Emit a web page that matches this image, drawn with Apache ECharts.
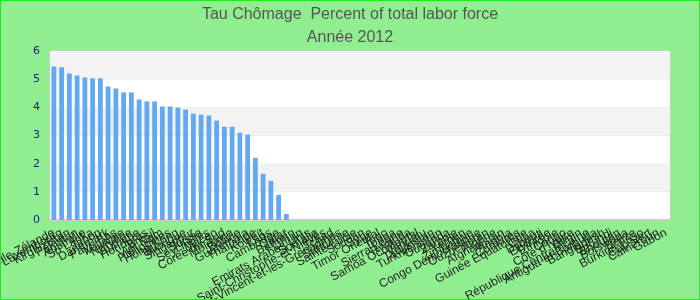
<!DOCTYPE html>
<html>
<head>
<meta charset="utf-8">
<script src="https://cdn.jsdelivr.net/npm/echarts@6/dist/echarts.min.js"></script>
<style>
html,body{margin:0;padding:0;}
#wrap{width:700px;height:300px;box-sizing:border-box;border:1px solid #22e622;background:#90ee90;}
#chart{width:698px;height:298px;}
</style>
</head>
<body>
<div id="wrap"><div id="chart"></div></div>
<script>
var categories = [
  "Nouvelle-Zélande","Luxembourg","Kirghizistan","Pakistan","Australie","Sri Lanka","Japon","Danemark",
  "Pays-Bas","Malaisie","Norvège","Autriche","Honduras","Brésil","Viêt Nam","Philippines",
  "Hong Kong","Mexique","Singapour","Suisse","Seychelles","Macao","Corée du Sud","Moldavie",
  "Bolivie","Guatemala","Thaïlande","Koweït","Laos","Cambodge","Qatar","Bahreïn",
  "Oman","Emirats Arabes Unis","Somalie","Saint-Christophe-et-Niévès","Tchad","Saint-Vincent-et-les-Grenadines","Suriname","Sainte-Lucie",
  "Soudan","Syrie","Timor Oriental","Togo","Tonga","Sierra Leone","Rwanda","Samoa Occidental",
  "Vanuatu","Tadjikistan","Turkménistan","Ouganda","Zambie","Yémen","Zimbabwe","Congo Démocratique",
  "Ouzbékistan","Algérie","Afghanistan","Angola","Comores","Guinée Équatoriale","Cuba","Djibouti",
  "Érythrée","Éthiopie","Congo","Côte d'Ivoire","Bénin","République Centrafricaine","Antigua-et-Barbuda","Bangladesh",
  "Burundi","Bhoutan","Botswana","Belize","Burkina Faso","Cap-Vert","Cameroun","Gabon"
];
var values = [
  5.45,5.42,5.20,5.13,5.06,5.03,5.03,4.74,4.67,4.53,4.53,4.28,4.21,4.21,4.03,4.03,
  3.99,3.92,3.78,3.74,3.71,3.53,3.31,3.31,3.10,3.03,2.21,1.64,1.39,0.89,0.21
];
var yTicks = {min:0, max:6, interval:1};

var seriesData = categories.map(function(c,i){ return i < values.length ? values[i] : null; });

var chart = echarts.init(document.getElementById('chart'));
chart.setOption({
  backgroundColor: '#90ee90',
  animation: false,
  title: {
    text: 'Tau Chômage  Percent of total labor force',
    subtext: 'Année 2012',
    left: 'center',
    top: 0,
    itemGap: 5,
    textStyle: {fontFamily:'Liberation Sans, Arial, sans-serif', fontSize:16, fontWeight:'normal', color:'#555555', lineHeight:18},
    subtextStyle: {fontFamily:'Liberation Sans, Arial, sans-serif', fontSize:16, color:'#555555', lineHeight:18}
  },
  grid: {left:49, right:29, top:50, bottom:79, show:true, borderColor:'#cccccc', borderWidth:1, backgroundColor:'transparent', containLabel:false, outerBoundsMode:'none'},
  xAxis: {
    type:'category',
    data: categories,
    axisTick:{show:false},
    axisLine:{lineStyle:{color:'#cccccc', width:2}},
    axisLabel:{interval:0, rotate:28, margin:12, fontSize:12, color:'#222222', fontFamily:'Liberation Sans, Arial, sans-serif', hideOverlap:false}
  },
  yAxis: {
    type:'value', min:yTicks.min, max:yTicks.max, interval:yTicks.interval,
    axisLine:{show:false}, axisTick:{show:false},
    splitLine:{show:false},
    splitArea:{show:true, areaStyle:{color:['#ffffff','#f3f3f3']}},
    axisLabel:{color:'#1a1a8a', fontSize:11, fontFamily:'DejaVu Sans, sans-serif', margin:10}
  },
  series: [{
    type:'bar',
    data: seriesData,
    barWidth:'62%',
    itemStyle:{color:'#63a9f1'}
  }]
});
</script>
</body>
</html>
